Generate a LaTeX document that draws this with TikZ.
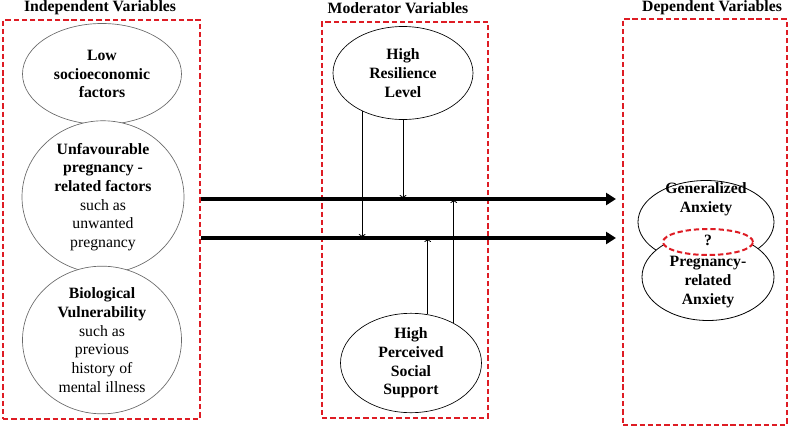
\documentclass[tikz,border=0pt]{standalone}
\usepackage{fontspec}
\setmainfont{Liberation Serif}
\usetikzlibrary{shapes.geometric, arrows.meta, positioning}
\definecolor{boxred}{RGB}{222, 28, 36}
\definecolor{ellgray}{RGB}{105, 105, 105}

\begin{document}
\begin{tikzpicture}[x=0.75pt, y=-0.75pt,
  groupbox/.style={draw=boxred, line width=1.5pt, dash pattern=on 4pt off 2.2pt, inner sep=0pt},
  grouptitle/.style={font=\fontsize{11.8}{14}\selectfont\bfseries, inner sep=0pt},
  varell/.style={ellipse, draw=ellgray, fill=white, line width=0.5pt, inner sep=0pt, align=center, font=\fontsize{11.8}{14}\selectfont\bfseries},
  depell/.style={ellipse, draw=black, fill=white, line width=0.6pt, inner sep=0pt},
  vartext/.style={align=center, inner sep=0pt, font=\fontsize{11.8}{14}\selectfont\bfseries},
  mainarr/.style={line width=3pt, -{Triangle[length=7.5pt, width=9pt]}},
  modarr/.style={line width=0.6pt, -{To[length=3pt, width=5pt]}}
]
  \useasboundingbox (0,0) rectangle (790,429);

  % Group boxes and titles
  \node[groupbox, minimum width=147.75pt, minimum height=299.25pt] (indep) at (101.5,219.5) {};
  \node[groupbox, minimum width=124.5pt, minimum height=297pt] (moder) at (405,220) {};
  \node[groupbox, minimum width=123pt, minimum height=304.5pt] (dep) at (705,222) {};
  \node[grouptitle] (indeptitle) at (100,8) {Independent Variables};
  \node[grouptitle] (modertitle) at (398,8) {Moderator Variables};
  \node[grouptitle] (deptitle) at (712,8) {Dependent Variables};

  % Independent variables
  \node[varell, minimum width=119.25pt, minimum height=75.75pt] (lowses) at (102,74) {Low\\socioeconomic\\factors};
  \node[varell, minimum width=121.5pt, minimum height=104.25pt] (pregfac) at (103,197) {Unfavourable\\pregnancy -\\related factors\\\mdseries such as\\\mdseries unwanted\\\mdseries pregnancy};
  \node[varell, minimum width=119.25pt, minimum height=98.25pt] (biovul) at (102,340) {Biological\\Vulnerability\\\mdseries such as\\\mdseries previous\\\mdseries history of\\\mdseries mental illness};

  % Moderator variables
  \node[varell, draw=black, minimum width=105pt, minimum height=69.75pt] (resil) at (403,73) {High\\Resilience\\Level};
  \node[varell, draw=black, minimum width=105.75pt, minimum height=72.75pt] (support) at (411,363) {High\\Perceived\\Social\\Support};

  % Dependent variables
  \node[depell, minimum width=102pt, minimum height=62.25pt] (genanx) at (706,222) {};
  \node[depell, minimum width=99pt, minimum height=65.25pt] (preganx) at (708,277) {};
  \node[depell, draw=boxred, line width=1.5pt, dash pattern=on 4pt off 2.2pt, minimum width=67.5pt, minimum height=19.5pt] (overlap) at (708,242) {};
  \node[vartext] (gentext) at (706,199) {Generalized\\Anxiety};
  \node[vartext] (pregtext) at (708,282) {Pregnancy-\\related\\Anxiety};
  \node[vartext] (qmark) at (708,240) {?};

  % Main paths
  \coordinate (upln) at (0,199);
  \coordinate (lowln) at (0,238);
  \draw[mainarr, shorten >=4.5pt] (indep.east |- upln) -- (dep.west |- upln);
  \draw[mainarr, shorten >=4.5pt] (indep.east |- lowln) -- (dep.west |- lowln);

  % Moderating effects
  \draw[modarr] (resil.223) -- (resil.223 |- lowln);
  \draw[modarr] (resil.south) -- (resil.south |- upln);
  \draw[modarr] (support.71) -- (support.71 |- lowln);
  \draw[modarr] (support.43) -- (support.43 |- upln);
\end{tikzpicture}
\end{document}
